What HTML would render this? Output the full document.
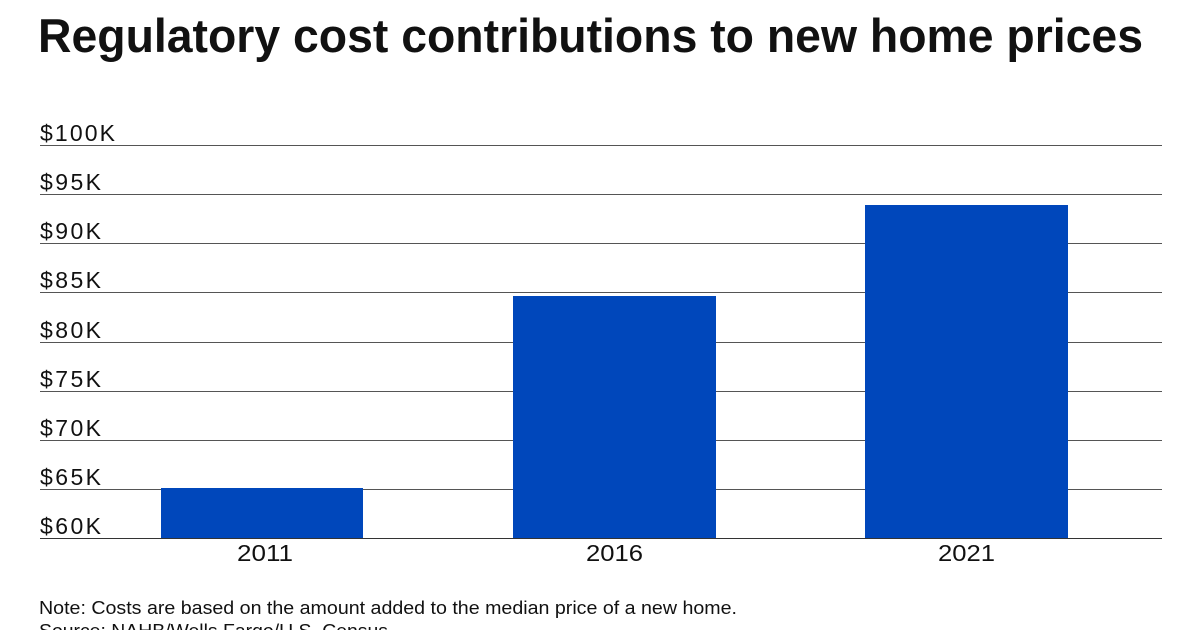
<!DOCTYPE html>
<html><head><meta charset="utf-8"><style>
html,body{margin:0;padding:0;background:#fff;}
svg{display:block;}
text{font-family:"Liberation Sans",sans-serif;fill:#111;}
</style></head><body>
<svg width="1200" height="630" viewBox="0 0 1200 630" xmlns="http://www.w3.org/2000/svg">
<rect width="1200" height="630" fill="#fff"/>
<text x="38" y="52" font-size="47" font-weight="bold" textLength="1105" lengthAdjust="spacingAndGlyphs">Regulatory cost contributions to new home prices</text>
<g stroke="#555" stroke-width="1">
<line x1="40" y1="145.5" x2="1162" y2="145.5"/>
<line x1="40" y1="194.5" x2="1162" y2="194.5"/>
<line x1="40" y1="243.5" x2="1162" y2="243.5"/>
<line x1="40" y1="292.5" x2="1162" y2="292.5"/>
<line x1="40" y1="342.5" x2="1162" y2="342.5"/>
<line x1="40" y1="391.5" x2="1162" y2="391.5"/>
<line x1="40" y1="440.5" x2="1162" y2="440.5"/>
<line x1="40" y1="489.5" x2="1162" y2="489.5"/>
</g>
<g fill="#0047BB">
<rect x="161" y="488" width="202" height="51"/>
<rect x="513" y="296" width="203" height="243"/>
<rect x="865" y="205" width="203" height="334"/>
</g>
<line x1="40" y1="538.5" x2="1162" y2="538.5" stroke="#333" stroke-width="1"/>
<g font-size="23" lengthAdjust="spacingAndGlyphs">
<text x="40" y="141" textLength="75">$100K</text>
<text x="40" y="190" textLength="61">$95K</text>
<text x="40" y="239" textLength="61">$90K</text>
<text x="40" y="288" textLength="61">$85K</text>
<text x="40" y="338" textLength="61">$80K</text>
<text x="40" y="387" textLength="61">$75K</text>
<text x="40" y="436" textLength="61">$70K</text>
<text x="40" y="485" textLength="61">$65K</text>
<text x="40" y="534" textLength="61">$60K</text>
</g>
<g font-size="23">
<text x="237" y="561" textLength="56" lengthAdjust="spacingAndGlyphs">2011</text>
<text x="586" y="561" textLength="57" lengthAdjust="spacingAndGlyphs">2016</text>
<text x="938" y="561" textLength="57" lengthAdjust="spacingAndGlyphs">2021</text>
</g>
<text x="39" y="614" font-size="18" textLength="698" lengthAdjust="spacingAndGlyphs">Note: Costs are based on the amount added to the median price of a new home.</text>
<text x="39" y="637" font-size="18" textLength="349" lengthAdjust="spacingAndGlyphs">Source: NAHB/Wells Fargo/U.S. Census</text>
</svg>
</body></html>
